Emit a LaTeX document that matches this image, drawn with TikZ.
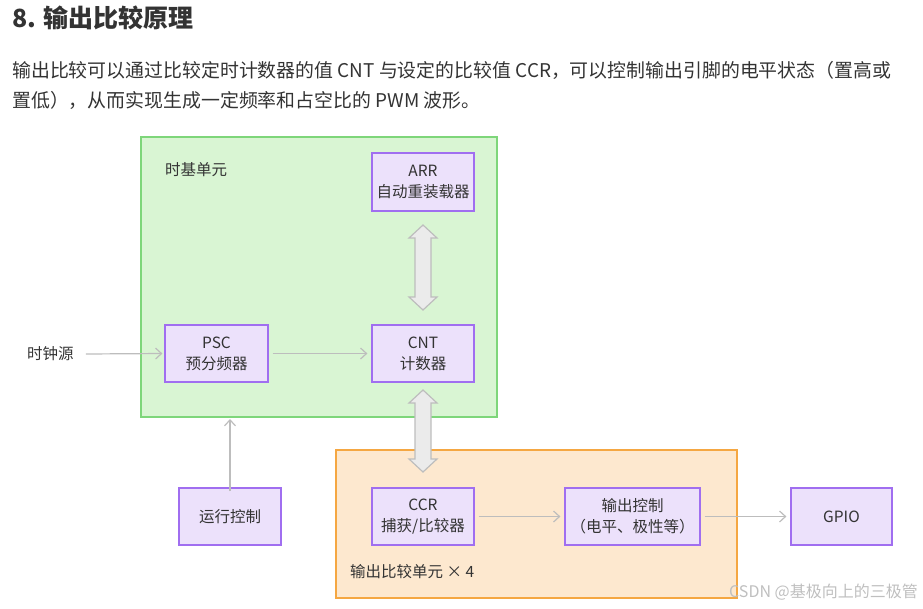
\documentclass[tikz,border=0pt]{standalone}
\usepackage{fontspec}
\setmainfont{Noto Sans CJK SC}
\usetikzlibrary{arrows.meta}
\definecolor{gfill}{HTML}{D9F5D3}\definecolor{gline}{HTML}{7ED67A}
\definecolor{ofill}{HTML}{FDE8CF}\definecolor{oline}{HTML}{F5A742}
\definecolor{bfill}{HTML}{ECE1FB}\definecolor{bline}{HTML}{A06EF0}
\definecolor{arr}{HTML}{BDBDBD}\definecolor{txt}{HTML}{333333}
\begin{document}
\begin{tikzpicture}[x=1pt,y=-1pt,
  blk/.style={draw=bline,fill=bfill,line width=1.2pt,inner sep=0pt,align=center,font=\fontsize{15.5}{21}\selectfont,text=txt},
  thin/.style={draw=arr,line width=1.2pt,-{Straight Barb[length=6pt,width=11pt]}},
  dbl/.style={fill=black!8,draw=arr,line width=1.2pt,line join=miter},
  lbl/.style={font=\fontsize{15.5}{18}\selectfont,text=txt,anchor=west,inner sep=0pt}]
\useasboundingbox (0,0) rectangle (923,608);
\node[anchor=west,inner sep=0pt,font=\bfseries\fontsize{25}{28}\selectfont,text=txt] (title) at (12,18) {8. 输出比较原理};
\node[anchor=west,inner sep=0pt,font=\fontsize{18.9}{22}\selectfont,text=txt] (p1) at (12,70) {输出比较可以通过比较定时计数器的值 CNT 与设定的比较值 CCR，可以控制输出引脚的电平状态（置高或};
\node[anchor=west,inner sep=0pt,font=\fontsize{18.9}{22}\selectfont,text=txt] (p2) at (12,100) {置低），从而实现生成一定频率和占空比的 PWM 波形。};
\draw[fill=gfill,draw=gline,line width=1.2pt] (141,137) rectangle (497,417);
\draw[fill=ofill,draw=oline,line width=1.2pt] (336,450) rectangle (737,598);
\node[lbl] (tj) at (165,170) {时基单元};
\node[lbl] (oc) at (350,572) {输出比较单元 × 4};
\node[lbl] (clk) at (27,354) {时钟源};
\node[blk,minimum width=102pt,minimum height=58pt] (arr) at (423,182) {ARR\\自动重装载器};
\node[blk,minimum width=103pt,minimum height=57pt] (psc) at (216.5,353.5) {PSC\\预分频器};
\node[blk,minimum width=102pt,minimum height=57pt] (cnt) at (423,353.5) {CNT\\计数器};
\node[blk,minimum width=102pt,minimum height=57pt] (ccr) at (423,516.5) {CCR\\捕获/比较器};
\node[blk,minimum width=135pt,minimum height=57pt] (out) at (632.5,516.5) {输出控制\\（电平、极性等）};
\node[blk,minimum width=101pt,minimum height=57pt] (gpio) at (841.5,516.5) {GPIO};
\node[blk,minimum width=102pt,minimum height=57pt] (run) at (230,516.5) {运行控制};
\draw[thin] (clk.east)++(12,0) -- ([xshift=-2pt]psc.west);
\draw[thin] (psc.east)++(4,0) -- ([xshift=-4pt]cnt.west);
\draw[thin] ([yshift=-4pt]run.north) -- (230,419);
\draw[thin] ([xshift=4pt]ccr.east) -- ([xshift=-4pt]out.west);
\draw[thin] ([xshift=4pt]out.east) -- ([xshift=-4pt]gpio.west);
\foreach \a/\b in {225/310,390/472}{
 \draw[dbl] (423,\a) -- (437,\a+13) -- (431,\a+13) -- (431,\b-13) -- (437,\b-13) -- (423,\b) -- (409,\b-13) -- (415,\b-13) -- (415,\a+13) -- (409,\a+13) -- cycle;}
\node[anchor=east,inner sep=0pt,font=\fontsize{16}{18}\selectfont,text=black!25] (wm) at (918,592) {CSDN @基极向上的三极管};
\end{tikzpicture}
\end{document}
